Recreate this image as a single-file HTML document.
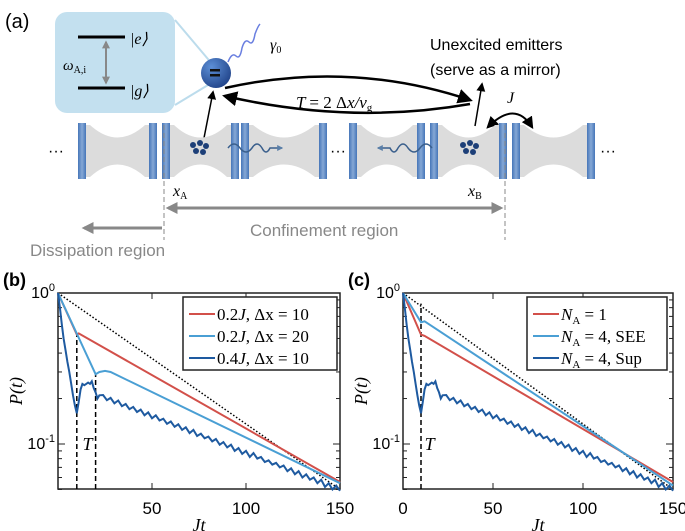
<!DOCTYPE html>
<html><head><meta charset="utf-8"><style>
body{margin:0;background:#fff;}
svg{display:block;font-family:"Liberation Sans",sans-serif;}
.serif{font-family:"Liberation Serif",serif;font-style:italic;}
</style></head><body>
<svg id="fig" width="685" height="531" viewBox="0 0 685 531" xmlns="http://www.w3.org/2000/svg">
<defs>
<radialGradient id="sph" cx="0.35" cy="0.3" r="0.8"><stop offset="0" stop-color="#5d8fd6"/><stop offset="1" stop-color="#1d3f85"/></radialGradient>
<linearGradient id="mir" x1="0" x2="1"><stop offset="0" stop-color="#4676b8"/><stop offset="0.5" stop-color="#86a8d6"/><stop offset="1" stop-color="#4676b8"/></linearGradient>
<marker id="ah" viewBox="0 0 10 10" refX="8" refY="5" markerWidth="6" markerHeight="6" orient="auto-start-reverse"><path d="M0,0 L10,5 L0,10 z" fill="#000"/></marker>
<marker id="ahg" viewBox="0 0 10 10" refX="8" refY="5" markerWidth="4" markerHeight="4" orient="auto-start-reverse"><path d="M0,0 L10,5 L0,10 z" fill="#888"/></marker>
<marker id="ahb" viewBox="0 0 10 10" refX="8" refY="5" markerWidth="4" markerHeight="4" orient="auto"><path d="M0,0 L10,5 L0,10 z" fill="#5a7fa8"/></marker>
</defs>
<g>
<text x="5" y="28" font-size="20">(a)</text>
<path d="M175,20 L213,65 M175,105 L213,82" stroke="#bcdcec" stroke-width="2" fill="none"/>
<rect x="55" y="12" width="120" height="101" rx="12" fill="#c3e0ef"/>
<line x1="78" y1="37" x2="125" y2="37" stroke="#000" stroke-width="3"/>
<line x1="78" y1="88" x2="125" y2="88" stroke="#000" stroke-width="3"/>
<line x1="106" y1="42" x2="106" y2="83" stroke="#888" stroke-width="2" marker-start="url(#ahg)" marker-end="url(#ahg)"/>
<text x="130" y="44" font-size="16" class="serif">|e⟩</text>
<text x="130" y="96" font-size="16" class="serif">|g⟩</text>
<text x="63" y="70" font-size="15" class="serif">ω<tspan font-size="10" font-style="normal" dy="3">A,i</tspan></text>
<path d="M228,62 q4,-10 8,-6 q4,4 6,-8 q3,-10 7,-6 q4,4 6,-8 q3,-8 5,-10" stroke="#6a7fe0" stroke-width="1.5" fill="none"/>
<circle cx="216" cy="73" r="15" fill="url(#sph)"/>
<rect x="210" y="69" width="10" height="2.5" fill="#111"/><rect x="210" y="74" width="10" height="2.5" fill="#111"/>
<text x="270" y="50" font-size="16" class="serif">γ<tspan font-size="10" font-style="normal" dy="3">0</tspan></text>
<text x="430" y="50" font-size="16">Unexcited emitters</text>
<text x="430" y="75" font-size="16">(serve as a mirror)</text>
<path d="M225,88 Q350,60 470,100" stroke="#000" stroke-width="2.5" fill="none" marker-end="url(#ah)"/>
<path d="M470,104 Q350,125 225,96" stroke="#000" stroke-width="2.5" fill="none" marker-end="url(#ah)"/>
<text x="296" y="108" font-size="17" class="serif">T <tspan font-style="normal">= 2 Δ</tspan>x/v<tspan font-size="11" font-style="normal" dy="3">g</tspan></text>
<line x1="204" y1="138" x2="213" y2="92" stroke="#000" stroke-width="1.5" marker-end="url(#ah)"/>
<line x1="475" y1="126" x2="482" y2="84" stroke="#000" stroke-width="1.5" marker-end="url(#ah)"/>
<path d="M488,127 Q515,100 532,127" stroke="#000" stroke-width="2" fill="none" marker-start="url(#ah)" marker-end="url(#ah)"/>
<text x="507" y="103" font-size="16" class="serif">J</text>
<g id="cav"></g>
<text x="48" y="156" font-size="16">···</text>
<text x="330" y="156" font-size="16">···</text>
<text x="600" y="156" font-size="16">···</text>
<g fill="#1d3f78">
<circle cx="193" cy="145" r="3"/><circle cx="200" cy="143" r="3"/><circle cx="206" cy="146" r="3"/><circle cx="196" cy="151" r="3"/><circle cx="203" cy="152" r="3"/>
<circle cx="463" cy="145" r="3"/><circle cx="470" cy="143" r="3"/><circle cx="476" cy="146" r="3"/><circle cx="466" cy="151" r="3"/><circle cx="473" cy="152" r="3"/>
</g>
<path d="M228,148 q6,-8 12,0 q6,8 12,0 q5,-8 10,0 q4,8 8,0 l12,0" stroke="#3a5f8c" stroke-width="1.5" fill="none" marker-end="url(#ahb)"/>
<path d="M432,148 q-6,-8 -12,0 q-6,8 -12,0 q-5,-8 -10,0 q-4,8 -8,0 l-12,0" stroke="#3a5f8c" stroke-width="1.5" fill="none" marker-end="url(#ahb)"/>
<line x1="164" y1="125" x2="164" y2="240" stroke="#888" stroke-dasharray="5,3"/>
<line x1="505" y1="125" x2="505" y2="240" stroke="#888" stroke-dasharray="5,3"/>
<text x="173" y="196" font-size="16" class="serif">x<tspan font-size="10" font-style="normal" dy="3">A</tspan></text>
<text x="468" y="196" font-size="16" class="serif">x<tspan font-size="10" font-style="normal" dy="3">B</tspan></text>
<line x1="168" y1="208" x2="501" y2="208" stroke="#888" stroke-width="3" marker-start="url(#ahg)" marker-end="url(#ahg)"/>
<line x1="162" y1="228" x2="84" y2="228" stroke="#888" stroke-width="3" marker-end="url(#ahg)"/>
<text x="250" y="236" font-size="17" fill="#888">Confinement region</text>
<text x="30" y="256" font-size="17" fill="#888">Dissipation region</text>
</g>
<g id="chartB"></g>
<g id="chartC"></g>
</svg>
<script>
const NS="http://www.w3.org/2000/svg";
function mk(parent,tag,attrs){const e=document.createElementNS(NS,tag);for(const k in attrs)e.setAttribute(k,attrs[k]);parent.appendChild(e);return e;}
// cavities
const cavG=document.getElementById('cav');
[[78,157],[162,239],[241,327],[349,425],[430,507],[512,595]].forEach(c=>{
  const a=c[0],b=c[1],m=(a+b)/2;
  mk(cavG,'path',{d:`M${a+6},125 L${a+12},125 Q${m},150 ${b-12},125 L${b-6},125 L${b-6},177 L${b-12},177 Q${m},152 ${a+12},177 L${a+6},177 Z`,fill:'#dcdcdc'});
  mk(cavG,'rect',{x:a,y:123,width:8,height:56,fill:'url(#mir)'});
  mk(cavG,'rect',{x:b-8,y:123,width:8,height:56,fill:'url(#mir)'});
});

// ---- data ----
const tDark=[0,1,2,3,4,5,6,7,8,9,10,11,12,13,14,15,16,17,18,19,20,21,22,24,26,28,30,32,34,36,38,40,42,44,46,48,50,52,54,56,58,60,62,64,66,68,70,72,74,76,78,80,82,84,86,88,90,92,94,96,98,100,102,104,106,108,110,112,114,116,118,120,122,124,126,128,130,132,134,136,138,140,142,144,146,148,150];
const pDark=[1.0,0.8,0.62,0.5,0.42,0.35,0.3,0.25,0.21,0.18,0.16,0.19,0.23,0.25,0.245,0.25,0.255,0.25,0.26,0.235,0.22,0.2,0.21,0.211,0.195,0.202,0.186,0.194,0.178,0.184,0.170,0.176,0.163,0.169,0.155,0.162,0.148,0.155,0.143,0.147,0.136,0.141,0.130,0.135,0.124,0.129,0.118,0.124,0.113,0.117,0.109,0.112,0.104,0.108,0.099,0.103,0.095,0.099,0.090,0.094,0.086,0.090,0.082,0.087,0.080,0.082,0.076,0.078,0.073,0.075,0.070,0.072,0.066,0.069,0.063,0.066,0.060,0.063,0.058,0.060,0.055,0.058,0.052,0.055,0.050,0.053,0.049];
const tRedB=[0,10,11,150];
const pRedB=[1,0.53,0.54,0.056];
const tLightB=[0,20,22,25,28,150];
const pLightB=[1,0.29,0.3,0.305,0.3,0.055];
const tRedC=[0,10,12,150];
const pRedC=[1,0.53,0.52,0.056];
const tLightC=[0,10,12,150];
const pLightC=[1,0.64,0.65,0.053];
const tRef=[0,150];
const pRef=[1,0.05];
const legendB=["0.2J, Δx = 10","0.2J, Δx = 20","0.4J, Δx = 10"];
const legendC=["N_A = 1","N_A = 4, SEE","N_A = 4, Sup"];
const xTicksB=[50,100,150];
const xTicksC=[0,50,100,150];
const markerT_B=[[10,0.53],[20,0.29]];
const markerT_C=[[10,0.85]];

function chart(g,L,R,ticks,series,legend,legX,legW,dashes,tLabelT,label,legLabels){
  const T=293,B=489;
  const sx=t=>L+(t/150)*(R-L);
  const sy=p=>T-Math.log10(p)*151;
  mk(g,'text',{x:L-55,y:286,'font-size':18,'font-weight':'bold'}).textContent=label;
  const box=mk(g,'rect',{x:L,y:T,width:R-L,height:B-T,fill:'none',stroke:'#222','stroke-width':1.5});
  
  
  [0.05,0.06,0.07,0.08,0.09,0.2,0.3,0.4,0.5,0.6,0.7,0.8,0.9].forEach(v=>{
    mk(g,'line',{x1:L,x2:L+4,y1:sy(v),y2:sy(v),stroke:'#222'});
    mk(g,'line',{x1:R,x2:R-4,y1:sy(v),y2:sy(v),stroke:'#222'});
  });
  [1,0.1].forEach((v,i)=>{
    mk(g,'line',{x1:L,x2:L+7,y1:sy(v),y2:sy(v),stroke:'#222'});
    mk(g,'line',{x1:R,x2:R-7,y1:sy(v),y2:sy(v),stroke:'#222'});
    const tx=mk(g,'text',{x:L-3,y:sy(v)+5,'font-size':16,'text-anchor':'end'});
    tx.textContent='10';
    const sp=mk(tx,'tspan',{dy:-7,'font-size':11});sp.textContent=i==0?'0':'-1';
    
    
  });
  ticks.forEach(v=>{
    mk(g,'line',{x1:sx(v),x2:sx(v),y1:B,y2:B-6,stroke:'#222'});
    mk(g,'line',{x1:sx(v),x2:sx(v),y1:T,y2:T+6,stroke:'#222'});
    const tx=mk(g,'text',{x:sx(v),y:514,'font-size':17,'text-anchor':'middle'});
    tx.textContent=v;
    
    
  });
  const xl=mk(g,'text',{x:(L+R)/2,y:531,'font-size':18,'text-anchor':'middle','class':'serif'});
  xl.textContent='Jt';
  
  
  const yl=mk(g,'text',{x:0,y:0,'font-size':18,'text-anchor':'middle','class':'serif',transform:`translate(${L-36},${(T+B)/2}) rotate(-90)`});
  yl.textContent='P(t)';
  
  
  dashes.forEach(d=>{
    const ln=mk(g,'line',{x1:sx(d[0]),x2:sx(d[0]),y1:B,y2:sy(d[1]),stroke:'#000','stroke-width':1.5,'stroke-dasharray':'5,3'});
    
    
  });
  const tl=mk(g,'text',{x:sx(tLabelT),y:sy(0.1)+6,'font-size':18,'class':'serif'});
  tl.textContent='T';
  
  
  series.forEach(s=>{
    const d=s.t.map((t,i)=>(i?'L':'M')+sx(t).toFixed(1)+','+sy(s.p[i]).toFixed(1)).join(' ');
    const p=mk(g,'path',{d:d,fill:'none',stroke:s.c,'stroke-width':s.w||2,'stroke-dasharray':s.dash||'none'});
    
    
  });
  const lg=mk(g,'g',{});
  
  
  mk(lg,'rect',{x:legX,y:297,width:legW,height:73,fill:'#fff',stroke:'#222','stroke-width':1.5});
  const cols=['#d2504a','#4a9fd4','#1e5aa0'];
  legLabels.forEach((lab,i)=>{
    const y=314+i*22;
    const e=mk(lg,'g',{});
    
    
    mk(e,'line',{x1:legX+6,x2:legX+32,y1:y,y2:y,stroke:cols[i],'stroke-width':2});
    const tx=mk(e,'text',{x:legX+34,y:y+6,'font-size':17,'font-family':'Liberation Serif, serif'});
    if(lab.startsWith('N_A')){
      const a=mk(tx,'tspan',{'font-style':'italic'});a.textContent='N';
      const b=mk(tx,'tspan',{'font-size':11,dy:4});b.textContent='A';
      const c=mk(tx,'tspan',{dy:-4});c.textContent=lab.slice(3);
    } else {
      const parts=lab.split('J');
      const a=mk(tx,'tspan',{});a.textContent=parts[0];
      const b=mk(tx,'tspan',{'font-style':'italic'});b.textContent='J';
      const c=mk(tx,'tspan',{});c.textContent=parts[1];
    }
  });
}
chart(document.getElementById('chartB'),58,340,xTicksB,[
  {t:tRef,p:pRef,c:'#000',w:1.5,dash:'1.5,2',n:'reference-line'},
  {t:tRedB,p:pRedB,c:'#d2504a',n:'series-red'},
  {t:tLightB,p:pLightB,c:'#4a9fd4',n:'series-lightblue'},
  {t:tDark,p:pDark,c:'#1e5aa0',n:'series-darkblue'}
],null,183,154,markerT_B,13,'(b)',legendB);
chart(document.getElementById('chartC'),403,673,xTicksC,[
  {t:tRef,p:pRef,c:'#000',w:1.5,dash:'1.5,2',n:'reference-line'},
  {t:tRedC,p:pRedC,c:'#d2504a',n:'series-red'},
  {t:tLightC,p:pLightC,c:'#4a9fd4',n:'series-lightblue'},
  {t:tDark,p:pDark,c:'#1e5aa0',n:'series-darkblue'}
],null,527,140,markerT_C,12,'(c)',legendC);
</script>
</body></html>
